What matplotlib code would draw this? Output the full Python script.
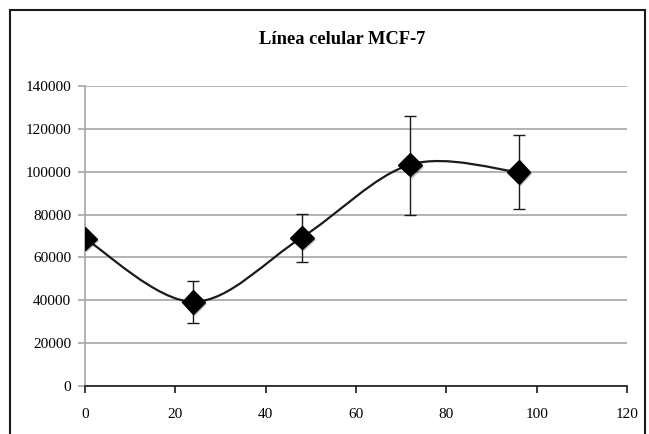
import numpy as np
import matplotlib
matplotlib.use("Agg")
import matplotlib.pyplot as plt
from matplotlib.path import Path
from matplotlib.patches import PathPatch, Rectangle
import matplotlib.patheffects as pe

# Data
hours = [0, 24, 48, 72, 96]
cells = [68800, 39300, 69300, 103300, 99800]
err_low = [0, 9800, 11200, 23400, 17400]
err_high = [0, 9600, 10800, 22900, 17200]
x_ticks = [0, 20, 40, 60, 80, 100, 120]
y_ticks = [0, 20000, 40000, 60000, 80000, 100000, 120000, 140000]
title = "Línea celular MCF-7"

plt.rcParams['font.family'] = ['Liberation Serif', 'DejaVu Serif']

fig = plt.figure(figsize=(6.49, 4.34), dpi=100)
ax = fig.add_axes([85/649, 1-386/434, (627-85)/649, (386-86)/434])

# Excel-style smoothed line (Catmull-Rom Bezier through the data points)
P = np.column_stack([hours, cells]).astype(float)
n = len(P)
verts = [tuple(P[0])]
codes = [Path.MOVETO]
for i in range(n - 1):
    p0 = P[i - 1] if i > 0 else P[i]
    p1 = P[i]
    p2 = P[i + 1]
    p3 = P[i + 2] if i + 2 < n else P[i + 1]
    c1 = p1 + (p2 - p0) / 6.0
    c2 = p2 - (p3 - p1) / 6.0
    verts += [tuple(c1), tuple(c2), tuple(p2)]
    codes += [Path.CURVE4] * 3
ax.add_patch(PathPatch(Path(verts, codes), facecolor='none', edgecolor='#1a1a1a',
                       lw=1.6, zorder=3))

ax.errorbar(hours, cells, yerr=[err_low, err_high], fmt='none', ecolor='#1a1a1a',
            elinewidth=1.0, capsize=4, capthick=1.0, zorder=4)
ax.plot(hours, cells, linestyle='none', marker='D', markersize=12, color='black',
        zorder=5,
        path_effects=[pe.SimplePatchShadow(offset=(1.5, -1.5), alpha=0.25), pe.Normal()])

ax.set_xlim(0, 120)
ax.set_ylim(0, 140000)
ax.set_xticks(x_ticks)
ax.set_yticks(y_ticks)
ax.set_xticklabels([str(v) for v in x_ticks], fontsize=11)
ax.set_yticklabels([str(v) for v in y_ticks], fontsize=11)
ax.yaxis.grid(True, color='#a6a6a6', lw=1.2)
ax.set_axisbelow(True)
for s in ['top', 'right']:
    ax.spines[s].set_visible(False)
ax.spines['left'].set_color('#a6a6a6')
ax.spines['left'].set_linewidth(1.2)
ax.spines['bottom'].set_color('#1a1a1a')
ax.spines['bottom'].set_linewidth(1.2)
ax.tick_params(axis='y', direction='out', length=5, color='#a6a6a6', width=1.2, pad=5)
ax.tick_params(axis='x', direction='out', length=5, color='#1a1a1a', width=1.2, pad=11)

fig.text(342/649, 1-40/434, title, ha='center', va='center', fontsize=13.3,
         fontweight='bold')

fig.patches.append(Rectangle((10/649, -0.1), (645-10)/649, 1.1-10/434,
                             transform=fig.transFigure, fill=False,
                             edgecolor='#1a1a1a', lw=1.5))

fig.savefig("out.png", dpi=100)
